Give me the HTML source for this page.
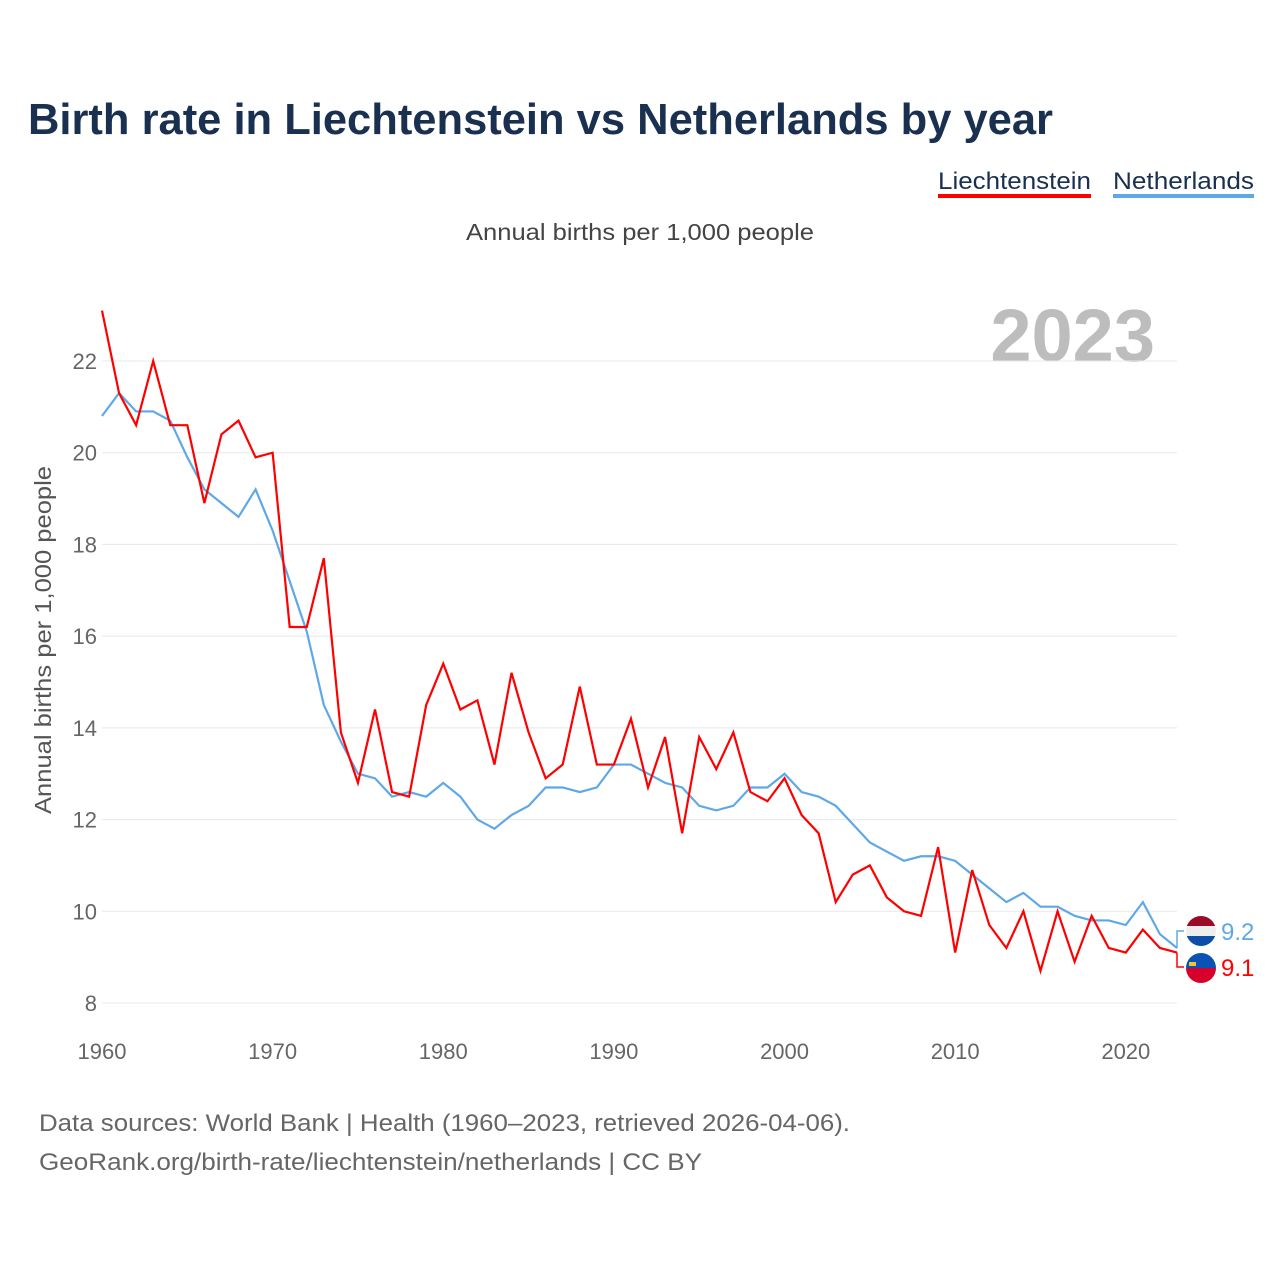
<!DOCTYPE html>
<html><head><meta charset="utf-8"><style>
html,body{margin:0;padding:0;background:#fff;}
svg{display:block;font-family:"Liberation Sans",sans-serif;}
</style></head><body>
<svg id="chart" width="1280" height="1280" viewBox="0 0 1280 1280" xmlns="http://www.w3.org/2000/svg">
<text x="28" y="134" font-size="44" font-weight="bold" fill="#1a3050" textLength="1025" lengthAdjust="spacingAndGlyphs">Birth rate in Liechtenstein vs Netherlands by year</text>
<g>
<g>
<text x="938" y="189" font-size="24" fill="#1a3050" textLength="153" lengthAdjust="spacingAndGlyphs">Liechtenstein</text>
<rect x="938" y="194" width="153" height="4" fill="#ff0000"/></g>
<g>
<text x="1113" y="189" font-size="24" fill="#1a3050" textLength="141" lengthAdjust="spacingAndGlyphs">Netherlands</text>
<rect x="1113" y="194" width="141" height="4" fill="#5fa8e8"/></g>
</g>
<text x="640" y="240" font-size="23" fill="#444" text-anchor="middle" textLength="348" lengthAdjust="spacingAndGlyphs">Annual births per 1,000 people</text>
<text x="1155" y="361" font-size="74" font-weight="bold" fill="#bdbdbd" text-anchor="end">2023</text>
<g id="grid"></g><g id="yticks"></g><g id="xticks"></g>
<text transform="translate(51,640) rotate(-90)" font-size="23" fill="#555" text-anchor="middle" textLength="348" lengthAdjust="spacingAndGlyphs">Annual births per 1,000 people</text>
<g id="series"></g>
<g id="endlabels"></g>
<text x="39" y="1131" font-size="24" fill="#666" textLength="811" lengthAdjust="spacingAndGlyphs">Data sources: World Bank | Health (1960–2023, retrieved 2026-04-06).</text>
<text x="39" y="1170" font-size="24" fill="#666" textLength="663" lengthAdjust="spacingAndGlyphs">GeoRank.org/birth-rate/liechtenstein/netherlands | CC BY</text>
</svg>
<script>
const years = [];
for (let y = 1960; y <= 2023; y++) years.push(y);
const liechtenstein = [23.1,21.3,20.6,22.0,20.6,20.6,18.9,20.4,20.7,19.9,20.0,16.2,16.2,17.7,13.9,12.8,14.4,12.6,12.5,14.5,15.4,14.4,14.6,13.2,15.2,13.9,12.9,13.2,14.9,13.2,13.2,14.2,12.7,13.8,11.7,13.8,13.1,13.9,12.6,12.4,12.9,12.1,11.7,10.2,10.8,11.0,10.3,10.0,9.9,11.4,9.1,10.9,9.7,9.2,10.0,8.7,10.0,8.9,9.9,9.2,9.1,9.6,9.2,9.1];
const netherlands = [20.8,21.3,20.9,20.9,20.7,19.9,19.2,18.9,18.6,19.2,18.3,17.2,16.1,14.5,13.7,13.0,12.9,12.5,12.6,12.5,12.8,12.5,12.0,11.8,12.1,12.3,12.7,12.7,12.6,12.7,13.2,13.2,13.0,12.8,12.7,12.3,12.2,12.3,12.7,12.7,13.0,12.6,12.5,12.3,11.9,11.5,11.3,11.1,11.2,11.2,11.1,10.8,10.5,10.2,10.4,10.1,10.1,9.9,9.8,9.8,9.7,10.2,9.5,9.2];
const yTicks = [8,10,12,14,16,18,20,22];
const xTicks = [1960,1970,1980,1990,2000,2010,2020];

const NS = "http://www.w3.org/2000/svg";
const X0 = 102, X1 = 1177, Y8 = 1003, Y22 = 361;
const xs = y => X0 + (y - 1960) * (X1 - X0) / 63;
const ys = v => Y8 - (v - 8) * (Y8 - Y22) / 14;
function mk(tag, attrs, parent, text) {
  const e = document.createElementNS(NS, tag);
  for (const k in attrs) e.setAttribute(k, attrs[k]);
  if (text !== undefined) e.textContent = text;
  parent.appendChild(e);
  return e;
}
const grid = document.getElementById('grid'), yt = document.getElementById('yticks'), xt = document.getElementById('xticks');
yTicks.forEach(v => {
  const l = mk('line', {x1: 102, x2: 1177, y1: ys(v), y2: ys(v), stroke: '#e8e8e8', 'stroke-width': 1}, grid);
  
  
  const t = mk('text', {x: 97, y: ys(v) + 8, 'font-size': 22, fill: '#666', 'text-anchor': 'end'}, yt, String(v));
  
  
});
xTicks.forEach(v => {
  const t = mk('text', {x: xs(v), y: 1059, 'font-size': 22, fill: '#666', 'text-anchor': 'middle'}, xt, String(v));
  
  
});
const sg = document.getElementById('series');
function line(data, color, name) {
  const p = mk('polyline', {points: data.map((v, i) => xs(years[i]) + ',' + ys(v)).join(' '), fill: 'none', stroke: color, 'stroke-width': 2.2, 'stroke-linejoin': 'miter'}, sg);
  
  
}
line(netherlands, '#5fa8e8', 'netherlands-line');
line(liechtenstein, '#ff0000', 'liechtenstein-line');

const el = document.getElementById('endlabels');
const nlV = netherlands[netherlands.length - 1], liV = liechtenstein[liechtenstein.length - 1];
const nlY = 931, liY = 967;
const c1 = mk('polyline', {points: `${X1},${ys(nlV)} ${X1},${nlY} 1184,${nlY}`, fill: 'none', stroke: '#5fa8e8', 'stroke-width': 1.5}, el);


const c2 = mk('polyline', {points: `${X1},${ys(liV)} ${X1},${liY} 1184,${liY}`, fill: 'none', stroke: '#ff0000', 'stroke-width': 1.5}, el);


// NL flag
const nf = mk('g', {}, el);


mk('clipPath', {id: 'cnl'}, nf).appendChild(document.createElementNS(NS, 'circle'));
const cc1 = nf.querySelector('circle'); cc1.setAttribute('cx', 1201); cc1.setAttribute('cy', nlY); cc1.setAttribute('r', 15);
mk('rect', {x: 1186, y: nlY - 15, width: 30, height: 10, fill: '#9b0a26', 'clip-path': 'url(#cnl)'}, nf);
mk('rect', {x: 1186, y: nlY - 5, width: 30, height: 10, fill: '#eeeeee', 'clip-path': 'url(#cnl)'}, nf);
mk('rect', {x: 1186, y: nlY + 5, width: 30, height: 10, fill: '#0d4fa8', 'clip-path': 'url(#cnl)'}, nf);
// LI flag
const lf = mk('g', {}, el);


mk('clipPath', {id: 'cli'}, lf).appendChild(document.createElementNS(NS, 'circle'));
const cc2 = lf.querySelector('circle'); cc2.setAttribute('cx', 1201); cc2.setAttribute('cy', liY + 1); cc2.setAttribute('r', 15);
mk('rect', {x: 1186, y: liY - 14, width: 30, height: 15, fill: '#0b52b5', 'clip-path': 'url(#cli)'}, lf);
mk('rect', {x: 1186, y: liY + 1, width: 30, height: 15, fill: '#d6002a', 'clip-path': 'url(#cli)'}, lf);
mk('rect', {x: 1189, y: liY - 5, width: 7, height: 4, fill: '#f3c630'}, lf);
const t1 = mk('text', {x: 1221, y: nlY + 9, 'font-size': 24, fill: '#5fa8e8'}, el, nlV.toFixed(1));


const t2 = mk('text', {x: 1221, y: liY + 9, 'font-size': 24, fill: '#ff0000'}, el, liV.toFixed(1));


</script>
</body></html>
